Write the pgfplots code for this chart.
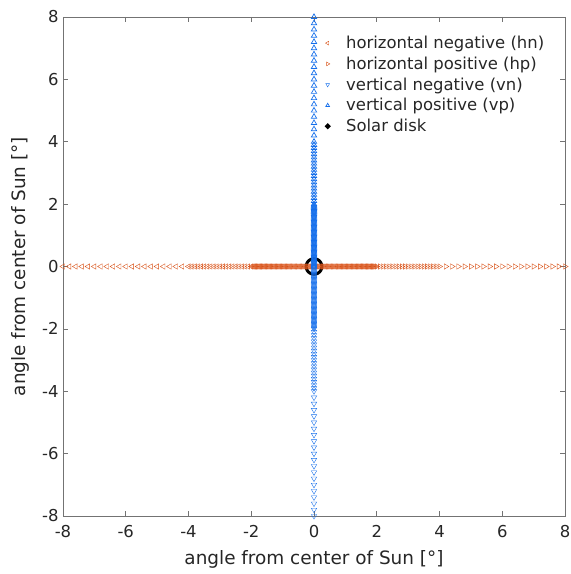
\documentclass[border=0pt]{standalone}
\usepackage{fontspec}
\setmainfont{DejaVu Sans}
\usepackage{pgfplots}
\usepackage{pgfplotstable}
\pgfplotsset{compat=1.18}
\definecolor{mlorange}{RGB}{217,83,25}
\definecolor{mlblue}{RGB}{20,110,235}
\definecolor{txt}{RGB}{38,38,38}
% offsets from the sun centre (deg): fine steps near 0, coarser further out
\pgfplotstableread[row sep=\\]{
d nd z\\
0 0 0\\ 0.04 -0.04 0\\ 0.08 -0.08 0\\ 0.12 -0.12 0\\ 0.16 -0.16 0\\ 0.20 -0.20 0\\
0.24 -0.24 0\\ 0.28 -0.28 0\\ 0.32 -0.32 0\\ 0.36 -0.36 0\\ 0.40 -0.40 0\\ 0.44 -0.44 0\\
0.48 -0.48 0\\ 0.52 -0.52 0\\ 0.56 -0.56 0\\ 0.60 -0.60 0\\ 0.64 -0.64 0\\ 0.68 -0.68 0\\
0.72 -0.72 0\\ 0.76 -0.76 0\\ 0.80 -0.80 0\\ 0.84 -0.84 0\\ 0.88 -0.88 0\\ 0.92 -0.92 0\\
0.96 -0.96 0\\ 1.00 -1.00 0\\ 1.04 -1.04 0\\ 1.08 -1.08 0\\ 1.12 -1.12 0\\ 1.16 -1.16 0\\
1.20 -1.20 0\\ 1.24 -1.24 0\\ 1.28 -1.28 0\\ 1.32 -1.32 0\\ 1.36 -1.36 0\\ 1.40 -1.40 0\\
1.44 -1.44 0\\ 1.48 -1.48 0\\ 1.52 -1.52 0\\ 1.56 -1.56 0\\ 1.60 -1.60 0\\ 1.64 -1.64 0\\
1.68 -1.68 0\\ 1.72 -1.72 0\\ 1.76 -1.76 0\\ 1.80 -1.80 0\\ 1.84 -1.84 0\\ 1.88 -1.88 0\\
1.92 -1.92 0\\ 1.96 -1.96 0\\ 2.00 -2.00 0\\
2.1 -2.1 0\\ 2.2 -2.2 0\\ 2.3 -2.3 0\\ 2.4 -2.4 0\\ 2.5 -2.5 0\\ 2.6 -2.6 0\\ 2.7 -2.7 0\\
2.8 -2.8 0\\ 2.9 -2.9 0\\ 3.0 -3.0 0\\ 3.1 -3.1 0\\ 3.2 -3.2 0\\ 3.3 -3.3 0\\ 3.4 -3.4 0\\
3.5 -3.5 0\\ 3.6 -3.6 0\\ 3.7 -3.7 0\\ 3.8 -3.8 0\\ 3.9 -3.9 0\\ 4.0 -4.0 0\\
4.2 -4.2 0\\ 4.4 -4.4 0\\ 4.6 -4.6 0\\ 4.8 -4.8 0\\ 5.0 -5.0 0\\ 5.2 -5.2 0\\ 5.4 -5.4 0\\
5.6 -5.6 0\\ 5.8 -5.8 0\\ 6.0 -6.0 0\\ 6.2 -6.2 0\\ 6.4 -6.4 0\\ 6.6 -6.6 0\\ 6.8 -6.8 0\\
7.0 -7.0 0\\ 7.2 -7.2 0\\ 7.4 -7.4 0\\ 7.6 -7.6 0\\ 7.8 -7.8 0\\ 8.0 -8.0 0\\
}\offsets
\tikzset{
  tri/.style={mark=triangle,mark size=3.1bp,mark options={line width=0.7bp,fill=none,solid}},
}
\pgfplotsset{
  legmark/.style={legend image code/.code={%
    \path (0bp,0bp) (28bp,0bp);
    \draw[mark repeat=2,mark phase=2,mark size=2.2bp,##1]
      plot coordinates {(0bp,0bp)(14bp,0bp)(28bp,0bp)};}},
}
\begin{document}
\begin{tikzpicture}
\begin{axis}[
  at={(0,0)},anchor=south west,
  scale only axis,width=502bp,height=499bp,
  xmin=-8,xmax=8,ymin=-8,ymax=8,
  xtick={-8,-6,...,8},ytick={-8,-6,...,8},
  tick align=inside,major tick length=5bp,
  tick style={black!55,line width=0.6bp},
  axis line style={black!55,line width=0.6bp},
  ticklabel style={font=\fontsize{16.5}{19}\selectfont,text=txt},
  xticklabel style={yshift=-6bp},
  yticklabel style={xshift=-1bp},
  /pgf/number format/assume math mode=true,
  xlabel={angle from center of Sun [°]},
  ylabel={angle from center of Sun [°]},
  label style={font=\fontsize{18.5}{21}\selectfont,text=txt},
  xlabel style={yshift=-6bp},
  ylabel style={yshift=6bp},
  clip=false,
  legend style={draw=none,fill=none,at={(rel axis cs:0.49,0.968)},anchor=north west,
    font=\fontsize{16.5}{19}\selectfont,text=txt,row sep=4.8bp,
    nodes={inner xsep=3bp,inner ysep=1bp}},
  legend cell align=left,
]
\addplot[only marks,mlorange,tri,mark options={rotate=90},legmark] table[x=nd,y=z]{\offsets};
\addlegendentry{horizontal negative (hn)}
\addplot[only marks,mlorange,tri,mark options={rotate=-90},legmark] table[x=d,y=z]{\offsets};
\addlegendentry{horizontal positive (hp)}
\addplot[only marks,mlblue,tri,mark options={rotate=180},legmark] table[x=z,y=nd]{\offsets};
\addlegendentry{vertical negative (vn)}
\addplot[only marks,mlblue,tri,legmark] table[x=z,y=d]{\offsets};
\addlegendentry{vertical positive (vp)}
\addplot[black,line width=3bp,smooth,
  legend image code/.code={\path (0bp,0bp) (28bp,0bp); \fill[black] (14bp,0) circle (1bp);}]
  coordinates {
  (0.25,0) (0.2415,0.0647) (0.2165,0.125) (0.1768,0.1768) (0.125,0.2165) (0.0647,0.2415)
  (0,0.25) (-0.0647,0.2415) (-0.125,0.2165) (-0.1768,0.1768) (-0.2165,0.125) (-0.2415,0.0647)
  (-0.25,0) (-0.2415,-0.0647) (-0.2165,-0.125) (-0.1768,-0.1768) (-0.125,-0.2165) (-0.0647,-0.2415)
  (0,-0.25) (0.0647,-0.2415) (0.125,-0.2165) (0.1768,-0.1768) (0.2165,-0.125) (0.2415,-0.0647)
  (0.25,0)};
\addlegendentry{Solar disk}
\end{axis}
\pgfresetboundingbox
\path[use as bounding box] (-63bp,-58bp) rectangle (508bp,516bp);
\end{tikzpicture}
\end{document}
